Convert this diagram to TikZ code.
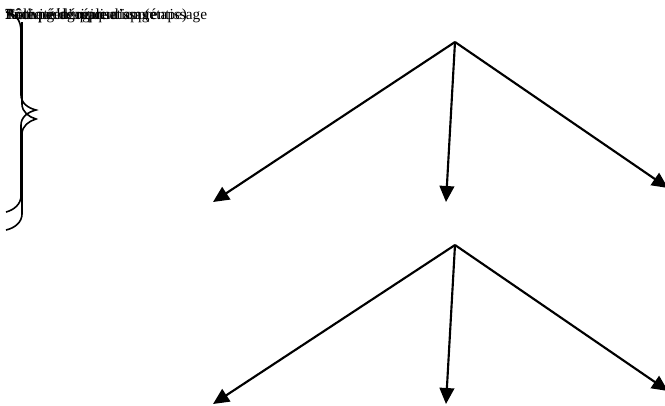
\documentclass[tikz,border=0pt]{standalone}
\usepackage{fontspec}
\setmainfont{Liberation Serif}
\usetikzlibrary{arrows.meta}
\begin{document}
\begin{tikzpicture}[x=0.75pt,y=-0.75pt,
  lbl/.style={anchor=base west,inner sep=0pt,font=\fontsize{11.5}{14}\selectfont},
  arr/.style={line width=1.6pt,-{Triangle[length=12pt,width=11pt]}},
  brace/.style={line width=1.2pt}]
\useasboundingbox (0,0) rectangle (665,405);
% overlapping labels (the reference prints them on top of each other)
\node[lbl] (t1) at (5,19) {Tâche générique d'apprentissage};
\node[lbl] (t2) at (5,19) {Rôle pédagogique};
\node[lbl] (t3) at (5,19) {Pratique d'apprentissage};
\node[lbl] (t4) at (5,19) {Activité de réalisation (étape)};
% braces
\draw[brace] (6,12) .. controls (16,14) and (21,20) .. (21,32) -- (21,95)
  .. controls (21,103) and (28,108) .. (36,110)
  .. controls (28,112) and (21,117) .. (21,125) -- (21,196)
  .. controls (21,204) and (14,210) .. (6,212);
\draw[brace] (22,22) -- (22,104)
  .. controls (22,112) and (29,117) .. (36,119)
  .. controls (29,121) and (22,126) .. (22,134) -- (22,214)
  .. controls (22,222) and (15,228) .. (6,230);
% top group
\coordinate (a1) at (455,42);
\coordinate (l1) at (213,202);
\coordinate (m1) at (446,202);
\coordinate (r1) at (668,188);
\draw[arr] (a1) -- (l1);
\draw[arr] (a1) -- (m1);
\draw[arr] (a1) -- (r1);
% bottom group
\coordinate (a2) at (455,245);
\coordinate (l2) at (213,404);
\coordinate (m2) at (446,404);
\coordinate (r2) at (668,391);
\draw[arr] (a2) -- (l2);
\draw[arr] (a2) -- (m2);
\draw[arr] (a2) -- (r2);
\end{tikzpicture}
\end{document}
